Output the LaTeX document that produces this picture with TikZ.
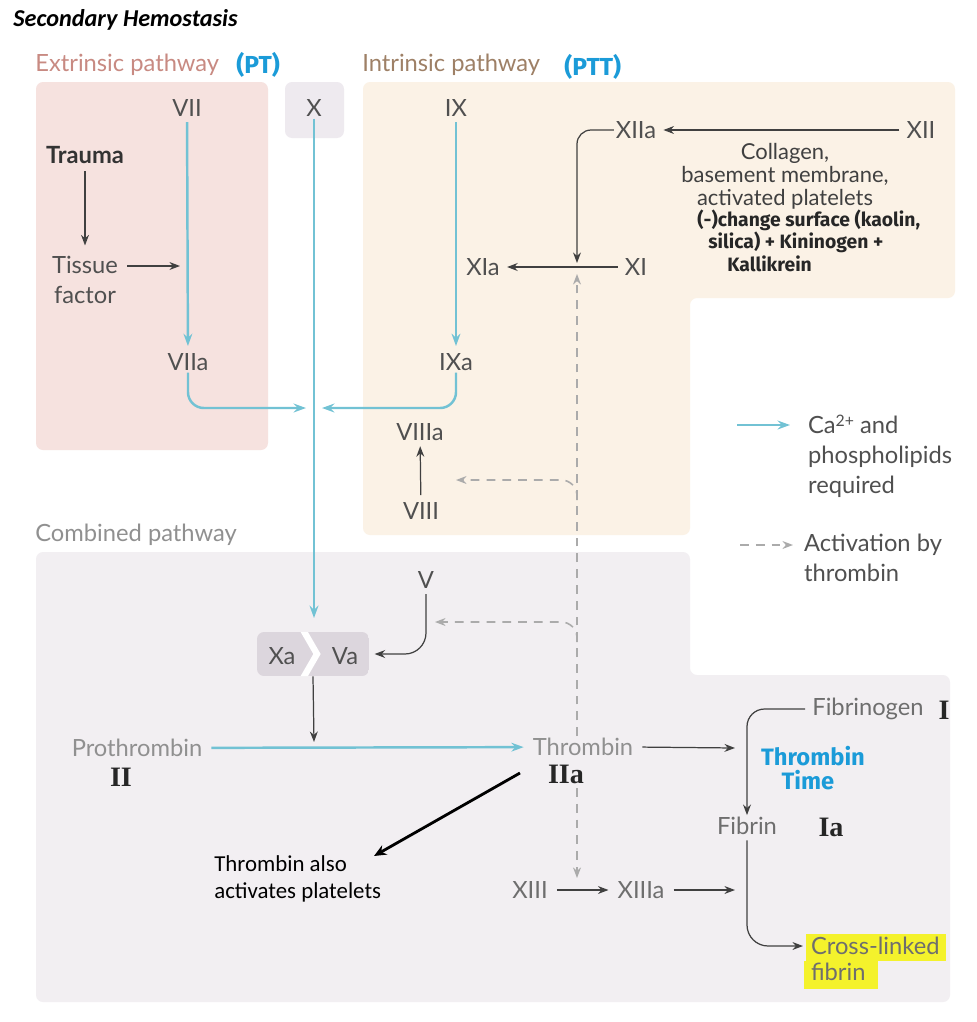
\documentclass[tikz,border=0pt]{standalone}
\usepackage{fontspec}
\setmainfont{Lato}
\newfontfamily\calibri{Carlito}
\newfontfamily\hand{Fira Sans}
\newfontfamily\romanhand{Liberation Serif}
\usetikzlibrary{arrows.meta}
\definecolor{extfill}{HTML}{F6E2DF}
\definecolor{intfill}{HTML}{FBF2E6}
\definecolor{combfill}{HTML}{F2EFF2}
\definecolor{xfill}{HTML}{EEEAEF}
\definecolor{xavafill}{HTML}{DCD6DD}
\definecolor{cablue}{HTML}{72C2D4}
\definecolor{dashgray}{HTML}{ABABAB}
\definecolor{labgray}{HTML}{505050}
\definecolor{midgray}{HTML}{6E6E6E}
\definecolor{lightgray}{HTML}{909090}
\definecolor{extlab}{HTML}{C88A82}
\definecolor{intlab}{HTML}{9E8066}
\definecolor{hblue}{HTML}{1B9BD8}
\definecolor{hyellow}{HTML}{F4F22C}
\begin{document}
\begin{tikzpicture}[x=0.02cm,y=-0.02cm,
  lbl/.style={text=labgray,font=\fontsize{13.5}{17}\selectfont,inner sep=1pt},
  lblmid/.style={lbl,text=midgray},
  lbllight/.style={lbl,text=lightgray},
  grouplabel/.style={font=\fontsize{13.5}{17}\selectfont,anchor=west,inner sep=0pt},
  bluearr/.style={draw=cablue,line width=1.4pt,-{Stealth[length=7pt,width=5pt]}},
  blk/.style={draw=black!75,line width=0.7pt,-{Stealth[length=6pt,width=4.5pt]}},
  thr/.style={draw=dashgray,line width=0.9pt,dash pattern=on 5pt off 4pt,-{Stealth[length=6pt,width=4.5pt]}},
  bluehand/.style={text=hblue,font=\hand\bfseries\fontsize{14}{12}\selectfont,inner sep=0pt},
  blackhand/.style={text=black!85,font=\hand\bfseries\fontsize{11}{12}\selectfont,inner sep=0pt,anchor=west},
  numhand/.style={text=black!85,font=\romanhand\bfseries\fontsize{16}{16}\selectfont,inner sep=0pt},
]
\useasboundingbox[fill=white] (0,0) rectangle (977,1022);

% regions
\fill[extfill,rounded corners=4pt] (36,82) rectangle (268,450);
\fill[xfill,rounded corners=4pt] (285,82) rectangle (344,138);
\fill[intfill,rounded corners=4pt] (363,82) -- (955,82) -- (955,298) -- (690,298) -- (690,535) -- (363,535) -- cycle;
\fill[combfill,rounded corners=4pt] (36,552) -- (690,552) -- (690,675) -- (950,675) -- (950,1002) -- (36,1002) -- cycle;

% titles
\node[anchor=west,inner sep=0pt,font=\calibri\bfseries\itshape\fontsize{13.8}{15}\selectfont] (title) at (13,20) {Secondary Hemostasis};
\node[grouplabel,text=extlab] (extlab) at (35,65) {Extrinsic pathway};
\node[bluehand,anchor=west] (pt) at (236,65) {(PT)};
\node[grouplabel,text=intlab] (intlab) at (362,65) {Intrinsic pathway};
\node[bluehand,anchor=west] (ptt) at (564,67) {(PTT)};
\node[grouplabel,text=lightgray] (comblab) at (35,535) {Combined pathway};

% extrinsic
\node[lbl] (VII) at (187,108) {VII};
\node[lbl,text=black!80,font=\bfseries\fontsize{13.5}{17}\selectfont] (Trauma) at (85,155) {Trauma};
\node[lbl,align=center] (Tissue) at (85,280) {Tissue\\factor};
\node[lbl] (VIIa) at (188,362) {VIIa};
\coordinate (tfa) at (180,266);
\draw[blk,shorten <=3pt,shorten >=5pt] (Trauma) -- (Tissue);
\draw[blk,shorten <=4pt] (Tissue.east |- tfa) -- (tfa);
\draw[bluearr,shorten <=2pt,shorten >=3pt] (VII) -- (VIIa);

% X
\node[lbl] (X) at (314,108) {X};

% intrinsic
\node[lbl] (IX) at (456,108) {IX};
\node[lbl] (IXa) at (456,362) {IXa};
\node[lbl] (XIIa) at (636,130) {XIIa};
\node[lbl] (XII) at (921,130) {XII};
\node[lbl] (XI) at (636,267) {XI};
\node[lbl] (XIa) at (483,267) {XIa};
\node[lbl] (VIIIa) at (420,432) {VIIIa};
\node[lbl] (VIII) at (421,511) {VIII};
\node[lbl,align=center,text=black!75,font=\fontsize{12.5}{13.2}\selectfont] (collagen) at (785,176) {Collagen,\\basement membrane,\\activated platelets};
\node[blackhand] (hw1) at (697,220) {(-)change surface (kaolin,};
\node[blackhand] (hw2) at (708,242) {silica) + Kininogen +};
\node[blackhand] (hw3) at (727,264) {Kallikrein};

\draw[bluearr,shorten <=2pt,shorten >=3pt] (IX) -- (IXa);
\draw[blk,shorten <=3pt,shorten >=3pt] (XII) -- (XIIa);
\draw[blk,shorten <=3pt,shorten >=3pt] (XI) -- (XIa);
\coordinate (jxi) at (577,263);
\draw[blk,rounded corners=8pt] (XIIa.west) -| (jxi);
\draw[blk,shorten <=3pt,shorten >=2pt] (VIII) -- (VIIIa);

% junction onto X line
\coordinate (jl) at (306,408);
\coordinate (jr) at (322,408);
\draw[bluearr,rounded corners=9pt] (VIIa.south) |- (jl);
\draw[bluearr,rounded corners=9pt] (IXa.south) |- (jr);

% Xa Va complex
\begin{scope}
\clip[rounded corners=4pt] (257,632) rectangle (369,676);
\fill[xavafill] (257,632) rectangle (369,676);
\draw[white,line width=3.6pt] (302,628) -- (317,654) -- (302,680);
\end{scope}
\node[inner sep=0pt,minimum width=2.24cm,minimum height=0.88cm] (XaVa) at (313,654) {};
\node[lbl] (Xa) at (282,656) {Xa};
\node[lbl] (Va) at (345,656) {Va};
\node[lbl] (V) at (426,580) {V};
\coordinate (xtip) at (314,618);
\draw[bluearr] (X.south) -- (xtip);
\draw[blk,rounded corners=12pt,shorten <=2pt,shorten >=3pt] (V.south) |- (XaVa.east);

% combined
\node[lbllight] (Prothrombin) at (137,748) {Prothrombin};
\node[lbllight] (Thrombin) at (583,747) {Thrombin};
\node[numhand] (II) at (121,777) {II};
\node[numhand] (IIa) at (566,774) {IIa};
\coordinate (jp) at (314,742);
\draw[blk] (XaVa.south) -- (jp);
\draw[bluearr,shorten <=4pt,shorten >=4pt] (Prothrombin) -- (Thrombin);

\node[lblmid] (Fibrinogen) at (868,709) {Fibrinogen};
\node[numhand] (I) at (944,710) {I};
\node[lblmid] (Fibrin) at (747,826) {Fibrin};
\node[numhand] (Ia) at (831,827) {Ia};
\node[lblmid] (XIII) at (530,890) {XIII};
\node[lblmid] (XIIIa) at (641,890) {XIIIa};
\coordinate (jf) at (735,748);
\draw[blk,shorten <=4pt] (Thrombin.east) -- (jf);
\draw[blk,rounded corners=10pt,shorten <=3pt] (Fibrinogen.west) -| (Fibrin.north);
\node[bluehand,anchor=base,font=\hand\bfseries\fontsize{13.5}{12}\selectfont] (tt1) at (813,765) {Thrombin};
\node[bluehand,anchor=base,font=\hand\bfseries\fontsize{13.5}{12}\selectfont] (tt2) at (808,789) {Time};
\draw[blk,shorten <=4pt,shorten >=4pt] (XIII) -- (XIIIa);
\coordinate (jx13) at (735,890);
\draw[blk,shorten <=4pt] (XIIIa.east) -- (jx13);

% cross-linked fibrin with highlight
\fill[hyellow] (806,934) rectangle (946,961);
\fill[hyellow] (804,961) rectangle (878,989);
\node[lblmid,anchor=north west,align=left,font=\fontsize{13.5}{15}\selectfont] (cross) at (809,935) {Cross-linked\\fibrin};
\coordinate (cl) at (803,946);
\draw[blk,rounded corners=12pt,shorten <=2pt] (Fibrin.south) |- (cl);

% thrombin dashed activations
\coordinate (dtop) at (577,274);
\coordinate (dbot) at (577,878);
\draw[thr] (Thrombin.north -| dtop) -- (dtop);
\draw[thr] (577,788) -- (dbot);
\coordinate (b8) at (577,500);
\coordinate (t8) at (456,480);
\draw[thr,rounded corners=9pt] (b8) |- (t8);
\coordinate (b5) at (577,642);
\coordinate (t5) at (435,622);
\draw[thr,rounded corners=9pt] (b5) |- (t5);

% thrombin also activates platelets
\node[anchor=north west,inner sep=0pt,align=left,font=\calibri\fontsize{13}{15.3}\selectfont] (also) at (214,855) {Thrombin also\\activates platelets};
\coordinate (ta) at (520,773);
\coordinate (tb) at (374,856);
\draw[black,line width=1.6pt,-{Stealth[length=7pt,width=6pt]}] (ta) -- (tb);

% legend
\coordinate (l1a) at (737,425);
\coordinate (l1b) at (790,425);
\draw[bluearr] (l1a) -- (l1b);
\node[lbl,anchor=north west,align=left] (legca) at (806,413) {Ca{\fontsize{9}{9}\selectfont\raisebox{4pt}{2+}} and\\phospholipids\\required};
\coordinate (l2a) at (740,545);
\coordinate (l2b) at (793,545);
\draw[thr] (l2a) -- (l2b);
\node[lbl,anchor=north west,align=left] (legthr) at (802,532) {Activation by\\thrombin};
\end{tikzpicture}
\end{document}
